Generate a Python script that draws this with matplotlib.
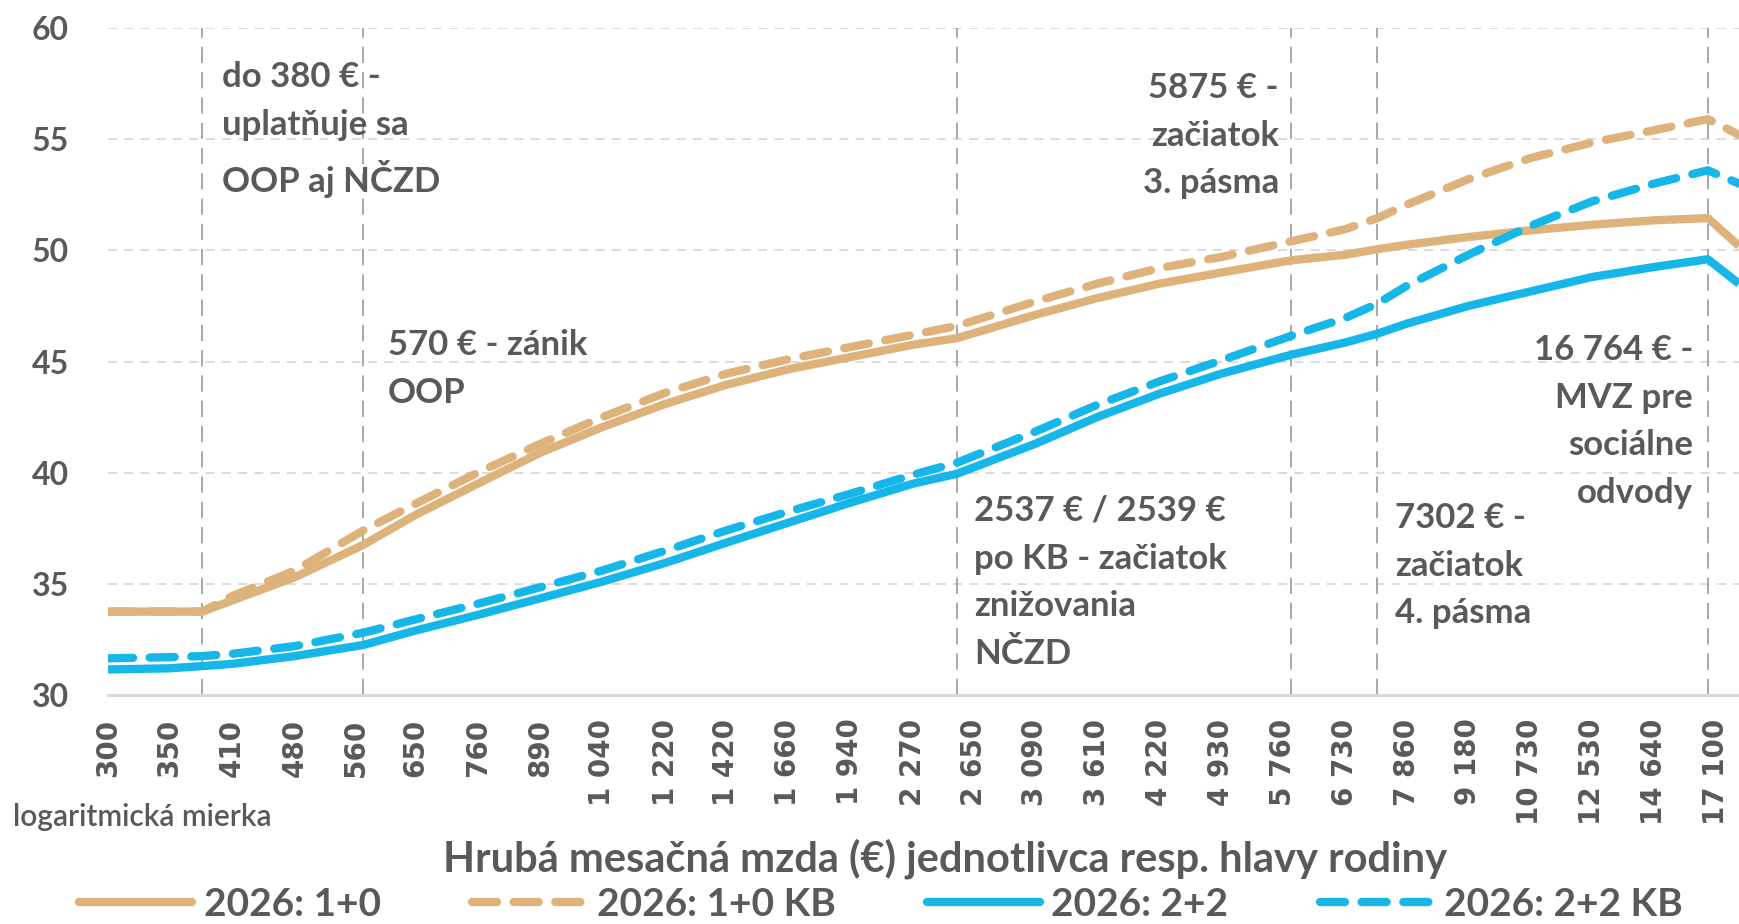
import matplotlib
matplotlib.use('Agg')
import matplotlib.pyplot as plt
from matplotlib.lines import Line2D
from matplotlib.ticker import FixedLocator, FixedFormatter, NullLocator

# hrubá mzda (€) - body grafu (logaritmická os)
wage = [300, 350, 380, 410, 480, 570, 650, 760, 890, 1040, 1220, 1420, 1660,
        1940, 2270, 2537, 3090, 3610, 4220, 4930, 5875, 6730, 7302, 7860,
        9180, 10730, 12530, 14640, 16764, 18130]

s_1_0 = [33.75, 33.75, 33.75, 34.25, 35.3, 36.75, 38.1, 39.5, 40.9, 42.05,
         43.1, 43.95, 44.65, 45.2, 45.75, 46.05, 47.1, 47.85, 48.5, 49.0,
         49.55, 49.8, 50.05, 50.25, 50.6, 50.9, 51.15, 51.35, 51.45, 50.2]
s_1_0_kb = [33.75, 33.75, 33.75, 34.45, 35.6, 37.4, 38.6, 40.0, 41.3, 42.5,
            43.6, 44.45, 45.1, 45.65, 46.2, 46.6, 47.7, 48.5, 49.2, 49.7,
            50.4, 50.95, 51.45, 52.05, 53.2, 54.15, 54.85, 55.4, 55.9, 55.2]
s_2_2 = [31.15, 31.2, 31.3, 31.4, 31.75, 32.25, 32.9, 33.6, 34.35, 35.1,
         35.95, 36.85, 37.75, 38.65, 39.5, 39.95, 41.3, 42.5, 43.55, 44.45,
         45.3, 45.85, 46.25, 46.7, 47.5, 48.15, 48.8, 49.25, 49.6, 48.5]
s_2_2_kb = [31.65, 31.7, 31.75, 31.85, 32.2, 32.8, 33.4, 34.1, 34.85, 35.6,
            36.5, 37.4, 38.25, 39.05, 39.9, 40.45, 41.85, 43.05, 44.1, 45.05,
            46.15, 46.95, 47.6, 48.4, 49.8, 51.1, 52.2, 53.0, 53.6, 53.0]

tick_vals = [300, 350, 410, 480, 560, 650, 760, 890, 1040, 1220, 1420, 1660,
             1940, 2270, 2650, 3090, 3610, 4220, 4930, 5760, 6730, 7860,
             9180, 10730, 12530, 14640, 17100]
tick_labels = ['300', '350', '410', '480', '560', '650', '760', '890',
               '1 040', '1 220', '1 420', '1 660', '1 940', '2 270', '2 650',
               '3 090', '3 610', '4 220', '4 930', '5 760', '6 730', '7 860',
               '9 180', '10 730', '12 530', '14 640', '17 100']

# zvislé čiary s popisom
marks = [380, 570, 2537, 5875, 7302, 16764]

TAN = '#DDB37B'
BLUE = '#16B6E9'
GREY = '#595959'
FONT = 'Lato'

plt.rcParams['font.family'] = [FONT, 'DejaVu Sans']

fig = plt.figure(figsize=(17.39, 9.24), dpi=100)
ax = fig.add_axes([108 / 1739, 1 - 695 / 924, 1 - 108 / 1739, 667 / 924])

lw = 6.0
dash = (0, (3.0, 2.0))
series = [
    (s_1_0, TAN, '-', '2026: 1+0'),
    (s_1_0_kb, TAN, dash, '2026: 1+0 KB'),
    (s_2_2, BLUE, '-', '2026: 2+2'),
    (s_2_2_kb, BLUE, dash, '2026: 2+2 KB'),
]
handles = []
for vals, col, ls, lab in series:
    ax.plot(wage, vals, color=col, lw=lw, linestyle=ls,
            solid_joinstyle='round', dash_capstyle='round',
            solid_capstyle='butt', label=lab, zorder=3)
    handles.append(Line2D([], [], color=col, lw=lw, linestyle=ls,
                          dash_capstyle='round', solid_capstyle='round'))

ax.set_xscale('log')
ax.set_xlim(300, 18130)
ax.set_ylim(30, 60)
ax.set_yticks(range(30, 61, 5))

for y in range(35, 61, 5):
    ax.axhline(y, color='#D9D9D9', lw=1.3, linestyle=(0, (5, 4)), zorder=1)
for m in marks:
    ax.axvline(m, color='#A0A0A0', lw=1.3, linestyle=(0, (9, 5)), zorder=2)

ax.xaxis.set_major_locator(FixedLocator(tick_vals))
ax.xaxis.set_major_formatter(FixedFormatter(tick_labels))
ax.xaxis.set_minor_locator(NullLocator())

for sp in ['top', 'right', 'left']:
    ax.spines[sp].set_visible(False)
ax.spines['bottom'].set_color('#D9D9D9')
ax.spines['bottom'].set_linewidth(2.2)

ax.tick_params(axis='y', length=0, pad=28, labelsize=23, labelcolor=GREY)
ax.tick_params(axis='x', length=0, pad=17, labelcolor=GREY)
for t in ax.get_yticklabels():
    t.set_fontweight('bold')
for t in ax.get_xticklabels():
    t.set_rotation(90)
    t.set_fontfamily('DejaVu Sans')
    t.set_fontweight('bold')
    t.set_fontsize(20)

# popisky
txt = dict(color=GREY, fontsize=25, fontweight='bold', linespacing=1.6,
           va='top')
notes = [
    ('do 380 € -\nuplatňuje sa\nOOP aj NČZD', 222, 61, 'left'),
    ('570 € - zánik\nOOP', 388, 329, 'left'),
    ('5875 € -\nzačiatok\n3. pásma', 1279, 72, 'right'),
    ('2537 € / 2539 €\npo KB - začiatok\nznižovania\nNČZD', 974, 495, 'left'),
    ('7302 € -\nzačiatok\n4. pásma', 1395, 502, 'left'),
    ('16 764 € -\nMVZ pre\nsociálne\nodvody', 1693, 334, 'right'),
]
for s, px, py, ha in notes:
    fig.text(px / 1739, 1 - py / 924, s, ha=ha, multialignment=ha, **txt)

fig.text(13 / 1739, 1 - 817 / 924, 'logaritmická mierka', color=GREY,
         fontsize=21.5, fontweight='semibold', va='center', ha='left')
fig.text(945 / 1739, 1 - 859 / 924,
         'Hrubá mesačná mzda (€) jednotlivca resp. hlavy rodiny',
         color=GREY, fontsize=30, fontweight='bold', va='center', ha='center')

leg = fig.legend(handles, [s[3] for s in series], ncol=4, loc='center',
                 bbox_to_anchor=(881 / 1739, 1 - 904 / 924), frameon=False,
                 handlelength=2.9, handletextpad=0.3, columnspacing=2.35,
                 prop={'family': FONT, 'weight': 'bold', 'size': 28},
                 borderpad=0, borderaxespad=0)
for t in leg.get_texts():
    t.set_color(GREY)

fig.savefig('out.png', dpi=100)
